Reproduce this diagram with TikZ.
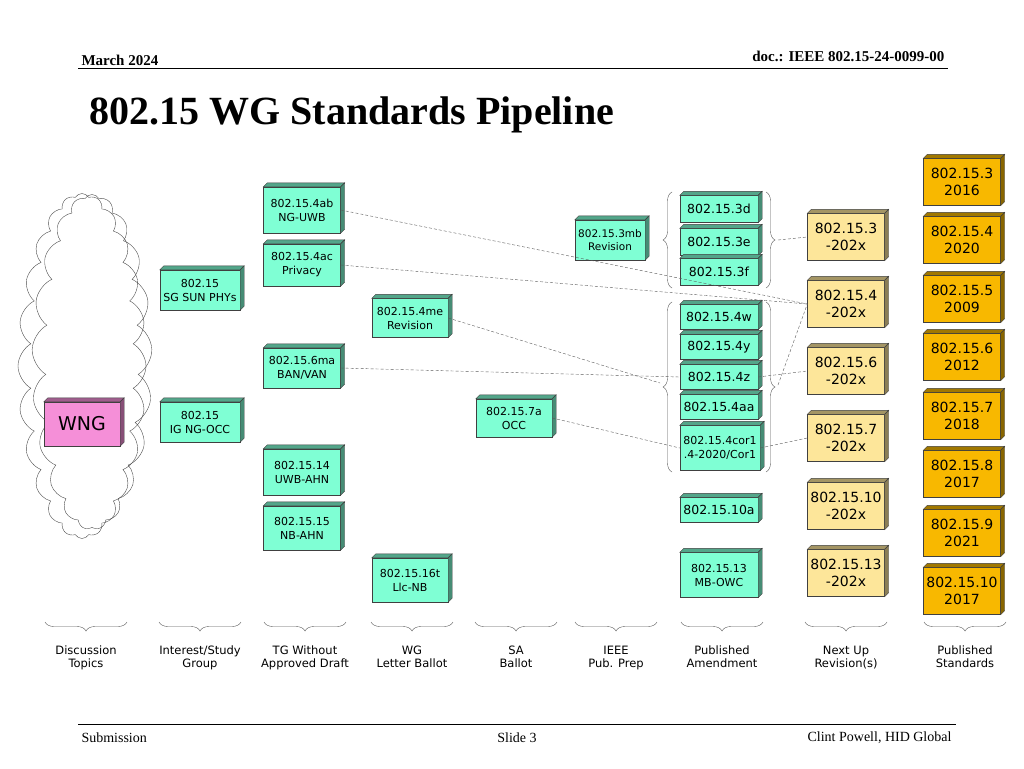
\documentclass[tikz,border=0pt]{standalone}
\usepackage{fontspec}
\setmainfont{Liberation Serif}
\newfontfamily\bxfont{DejaVu Sans}
\usetikzlibrary{shapes.symbols,decorations.pathreplacing}
\definecolor{tealb}{HTML}{7FFFD4}
\definecolor{pinkb}{HTML}{F58FD8}
\definecolor{nextb}{HTML}{FDE69A}
\definecolor{pubb}{HTML}{F8B800}
\newcommand\bx[8][11]{%
\node[draw=black!75,fill=#7,minimum width=#5pt,minimum height=#6pt,inner sep=0pt,align=center,font=\bxfont\fontsize{#1}{\dimexpr#1pt+3pt\relax}\selectfont] (#2) at (#3,#4) {#8};
\fill[#7!65!black,draw=black!75] (#2.north west)--++(4,-4)--([shift={(4,-4)}]#2.north east)--(#2.north east)--cycle;
\fill[#7!55!black,draw=black!75] (#2.north east)--++(4,-4)--([shift={(4,-4)}]#2.south east)--(#2.south east)--cycle;
}
\tikzset{dl/.style={densely dashed,gray!70!black,thin},
br/.style={decorate,decoration={brace,amplitude=9pt},gray!70!black,thin},
lab/.style={font=\bxfont\fontsize{11.5}{13}\selectfont,align=center}}
\begin{document}
\begin{tikzpicture}[x=1pt,y=-1pt]
\useasboundingbox (0,0) rectangle (1024,768);
% header
\node[anchor=base west,font=\bfseries\fontsize{15}{17}\selectfont] (h1) at (78,65) {March 2024};
\node[anchor=base east,font=\bfseries\fontsize{15}{17}\selectfont] (h2) at (948,62) {doc.: IEEE 802.15-24-0099-00};
\draw (78,68)--(948,68);
\node[anchor=base west,font=\bfseries\fontsize{40}{44}\selectfont] (ti) at (86,124) {802.15 WG Standards Pipeline};
\draw (78,724)--(956,724);
\node[anchor=base west,font=\fontsize{14}{16}\selectfont] (f1) at (78,742) {Submission};
\node[anchor=base,font=\fontsize{14}{16}\selectfont] (f2) at (517,742) {Slide 3};
\node[anchor=base east,font=\fontsize{14}{16}\selectfont] (f3) at (955,741) {Clint Powell, HID Global};
% cloud
\node[cloud,cloud puffs=24,draw=black!70,minimum width=128pt,minimum height=345pt,cloud puff arc=120] (cl1) at (82,366) {};
\node[cloud,cloud puffs=21,draw=black!70,minimum width=120pt,minimum height=335pt,cloud puff arc=120] (cl2) at (92,362) {};
\coordinate (lb2) at (660,383);
\coordinate (rb1) at (778,240);
\coordinate (rb2) at (778,385);
\bx{n4ab}{302}{210}{77}{46}{tealb}{802.15.4ab\\NG-UWB}
\bx{n4ac}{302}{265}{77}{42}{tealb}{802.15.4ac\\Privacy}
\bx{n6ma}{302}{368}{77}{40}{tealb}{802.15.6ma\\BAN/VAN}
\bx{n14}{302}{472}{77}{46}{tealb}{802.15.14\\UWB-AHN}
\bx{n15}{302}{528}{77}{44}{tealb}{802.15.15\\NB-AHN}
\bx{sun}{200}{290}{80}{40}{tealb}{802.15\\SG SUN PHYs}
\bx{occ}{200}{422}{80}{40}{tealb}{802.15\\IG NG-OCC}
\bx[19]{wng}{82}{424}{76}{44}{pinkb}{WNG}
\bx{n4me}{410}{318}{76}{39}{tealb}{802.15.4me\\Revision}
\bx{n16t}{410}{580}{76}{44}{tealb}{802.15.16t\\Llc-NB}
\bx{n7a}{514}{418}{76}{38}{tealb}{802.15.7a\\OCC}
\bx[10.5]{n3mb}{610}{240}{70}{40}{tealb}{802.15.3mb\\Revision}
\bx[12.5]{n3d}{719}{209}{78}{27}{tealb}{802.15.3d}
\bx[12.5]{n3e}{719}{242}{78}{27}{tealb}{802.15.3e}
\bx[12.5]{n3f}{719}{272}{78}{27}{tealb}{802.15.3f}
\bx[12.5]{n4w}{719}{317}{78}{25}{tealb}{802.15.4w}
\bx[12.5]{n4y}{719}{347}{78}{25}{tealb}{802.15.4y}
\bx[12.5]{n4z}{719}{377}{78}{25}{tealb}{802.15.4z}
\bx[12.5]{n4aa}{719}{407}{78}{25}{tealb}{802.15.4aa}
\bx[11]{n4cor}{720}{448}{80}{45}{tealb}{802.15.4cor1\\.4-2020/Cor1}
\bx[12.5]{n10a}{719}{510}{78}{25}{tealb}{802.15.10a}
\bx{n13}{719}{575}{78}{45}{tealb}{802.15.13\\MB-OWC}
\foreach \n/\y/\t in {x3/237/802.15.3,x4/304/802.15.4,x6/371/802.15.6,x7/438/802.15.7,x10/506/802.15.10,x13/573/802.15.13}
  {\bx[14]{\n}{846}{\y}{77}{47}{nextb}{\t\\-202x}}
\foreach \n/\y/\t/\yr in {p3/182/802.15.3/2016,p4/240/802.15.4/2020,p5/299/802.15.5/2009,p6/357/802.15.6/2012,p7/416/802.15.7/2018,p8/474/802.15.8/2017,p9/533/802.15.9/2021,p10/591/802.15.10/2017}
  {\bx[14]{\n}{962}{\y}{77}{47}{pubb}{\t\\\yr}}
% connectors
\draw[dl] (n4ab.east)--(x4.west);
\draw[dl] (n4ac.east)--(x4.west);
\draw[dl] (n6ma.east)--(n4z.west);
\draw[dl] (n4z.east)--(x6.west);
\draw[dl] (n4me.east)--(lb2);
\draw[dl] (n7a.east)--(n4cor.west);
\draw[dl] (n4cor.east)--(x7.west);
\draw[dl] (rb1)--(x3.west);
\draw[dl] (rb2)--(x4.west);
% braces
\draw[br] (672,288)--(672,192);
\draw[br] (766,192)--(766,288);
\draw[br] (672,472)--(672,302);
\draw[br] (766,302)--(766,472);
\foreach \c/\t [count=\i] in {86/{Discussion\\Topics},200/{Interest/Study\\Group},305/{TG Without\\Approved Draft},412/{WG\\Letter Ballot},516/{SA\\Ballot},616/{IEEE\\Pub. Prep},722/{Published\\Amendment},846/{Next Up\\Revision(s)},965/{Published\\Standards}}
 {\draw[br] (\c+41,622)--(\c-41,622);
  \node[lab,anchor=north] (L\i) at (\c,642) {\strut\t\strut};}
\end{tikzpicture}
\end{document}
